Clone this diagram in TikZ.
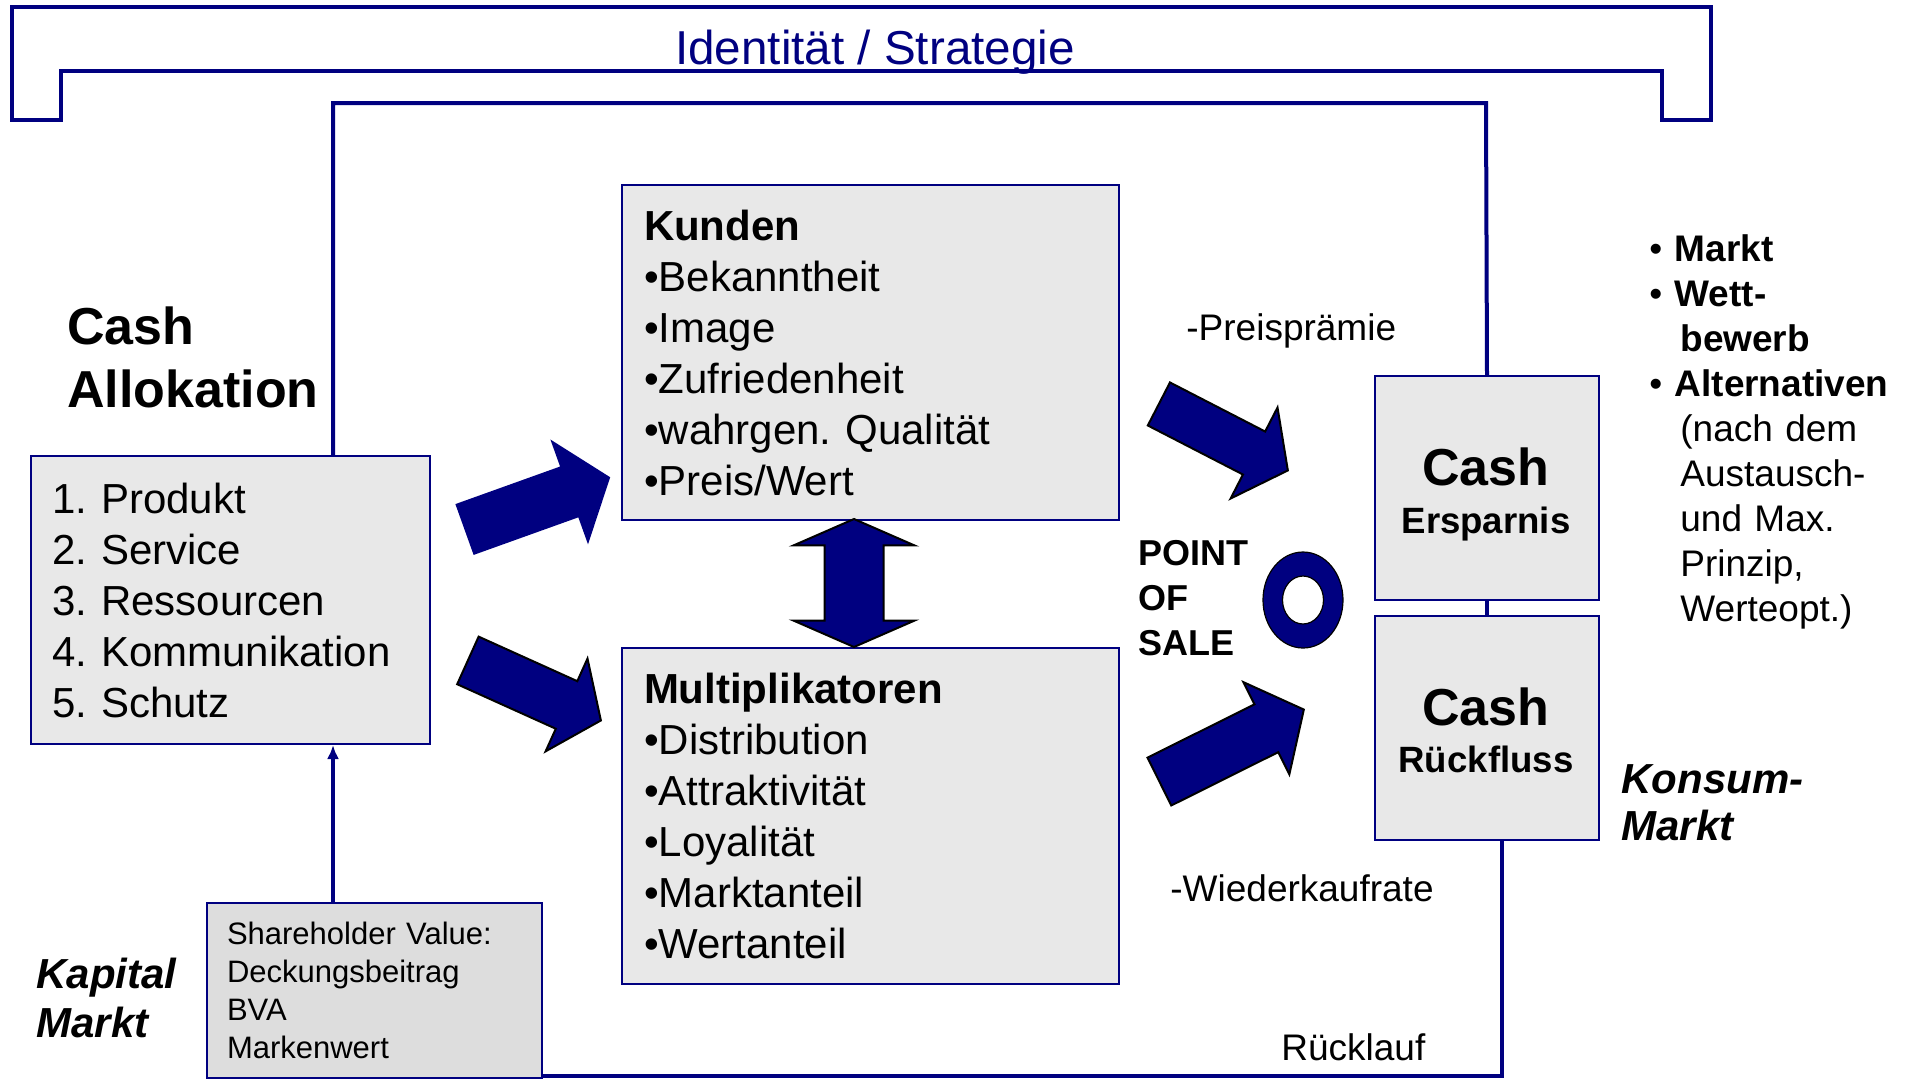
\documentclass[tikz,border=0pt]{standalone}
\usepackage{fontspec}
\setmainfont{Liberation Sans}
\usetikzlibrary{arrows.meta,positioning,shapes.arrows}
\definecolor{navy}{RGB}{0,0,128}
\definecolor{panel}{RGB}{232,232,232}
\definecolor{panel2}{RGB}{221,221,221}
\tikzset{
  box/.style={
    rectangle, draw=navy, line width=1pt, fill=panel, align=left,
    anchor=north west, inner ysep=0pt
  },
  cashbox/.style={
    rectangle, draw=navy, line width=1pt, fill=panel, anchor=north west,
    minimum width=112pt, minimum height=112pt, inner sep=0pt
  },
  cashbig/.style={inner sep=0pt, anchor=base, font=\bfseries\fontsize{26pt}{30pt}\selectfont},
  cashsub/.style={inner sep=0pt, anchor=base, font=\bfseries\fontsize{18.3pt}{22pt}\selectfont},
  txt/.style={inner sep=0pt, anchor=base west, align=left, text width=#1},
  txt/.default=150pt,
  frameline/.style={draw=navy, line width=2pt},
  blk/.style={
    single arrow, fill=navy, draw=black, line width=1pt, inner xsep=0pt,
    anchor=tail, single arrow head indent=0pt
  }
}
\frenchspacing
\begin{document}
\frenchspacing
\begin{tikzpicture}[x=0.5pt, y=-0.5pt]
\fill[white] (0,0) rectangle (1907,1078);
\useasboundingbox (0,0) rectangle (1907,1078);
\draw[frameline] (12,120) -- (12,7) -- (1711,7) -- (1711,120) -- (1662,120) -- (1662,71) -- (61,71) -- (61,120) -- cycle;
\node[inner sep=0pt, anchor=base, text=navy, font=\fontsize{23.8pt}{28pt}\selectfont] (ident) at (875,64) {Identität / Strategie};
\node[txt, font=\bfseries\fontsize{26pt}{31.5pt}\selectfont] (alloctitle) at (67,344) {Cash\\Allokation};
\node[box, text width=178.5pt, inner xsep=10.5pt, minimum height=144pt, font=\fontsize{21pt}{25.5pt}\selectfont] (alloc) at (30,455) {1. Produkt\\2. Service\\3. Ressourcen\\4. Kommunikation\\5. Schutz};
\node[box, text width=226.5pt, inner xsep=11pt, minimum height=167.5pt, font=\fontsize{21pt}{25.5pt}\selectfont] (kunden) at (621,184) {\textbf{Kunden}\\•Bekanntheit\\•Image\\•Zufriedenheit\\•wahrgen. Qualität\\•Preis/Wert};
\node[box, text width=226.5pt, inner xsep=11pt, minimum height=168pt, font=\fontsize{21pt}{25.5pt}\selectfont] (multi) at (621,647) {\textbf{Multiplikatoren}\\•Distribution\\•Attraktivität\\•Loyalität\\•Marktanteil\\•Wertanteil};
\node[box, fill=panel2, text width=147.5pt, inner xsep=10pt, minimum height=87.5pt, font=\fontsize{15.5pt}{19pt}\selectfont] (share) at (206,902) {Shareholder Value:\\Deckungsbeitrag\\BVA\\Markenwert};
\node[cashbox] (ersp) at (1374,375) {};
\node[cashbox] (rueck) at (1374,615) {};
\node[cashbig] (erspcash) at (1486,485) {Cash};
\node[cashsub] (erspname) at (1486,533) {Ersparnis};
\node[cashbig] (rueckcash) at (1486,725) {Cash};
\node[cashsub] (rueckname) at (1486,772) {Rückfluss};
\node[txt, font=\bfseries\fontsize{18pt}{22.5pt}\selectfont] (pos) at (1138,565) {POINT\\OF\\SALE};
\node[txt, font=\fontsize{18.5pt}{22pt}\selectfont] (praemie) at (1186,340) {-Preisprämie};
\node[txt, font=\fontsize{18.5pt}{22pt}\selectfont] (wieder) at (1170,901) {-Wiederkaufrate};
\node[txt, font=\fontsize{18.5pt}{22pt}\selectfont] (ruecklauf) at (1281,1060) {Rücklauf};
\node[txt, font=\bfseries\itshape\fontsize{21pt}{24.5pt}\selectfont] (kapital) at (36,988) {Kapital\\Markt};
\node[txt, font=\bfseries\itshape\fontsize{21pt}{23.5pt}\selectfont] (konsum) at (1621,793) {Konsum-\\Markt};
\node[txt=140pt, font=\fontsize{18.5pt}{22.5pt}\selectfont] (markt) at (1649,261) {•~\textbf{Markt}\\•~\textbf{Wett-}\\\hspace*{15.5pt}\textbf{bewerb}\\•~\textbf{Alternativen}\\\hspace*{15.5pt}(nach dem\\\hspace*{15.5pt}Austausch-\\\hspace*{15.5pt}und Max.\\\hspace*{15.5pt}Prinzip,\\\hspace*{15.5pt}Werteopt.)};
\coordinate (fTL) at (333,103);
\coordinate (fTR) at (1486,103);
\coordinate (fBR) at (1502,1076);
\draw[frameline] (alloc.north -| fTL) -- (fTL) -- (fTR) -- (ersp.north);
\draw[frameline] (ersp.south) -- (rueck.north);
\draw[frameline] (rueck.south -| fBR) -- (fBR) -- (share.east |- fBR);
\draw[frameline, -{Latex[length=7pt,width=6pt]}] (share.north -| fTL) -- (alloc.south -| fTL);
\node[blk, draw=navy, inner ysep=12.5pt, minimum height=76.25pt, minimum width=51.85pt, single arrow head extend=13.4pt, single arrow tip angle=104, rotate=19.74] (toKunden) at (464.5,529.5) {};
\node[blk, inner ysep=12.55pt, minimum height=72.95pt, minimum width=49.9pt, single arrow head extend=12.4pt, single arrow tip angle=107, rotate=-24.3] (toMulti) at (467,660) {};
\node[blk, inner ysep=11.6pt, minimum height=72.55pt, minimum width=50.3pt, single arrow head extend=13.5pt, single arrow tip angle=106.8, rotate=-27.27] (kundenPos) at (1158,403.5) {};
\node[blk, inner ysep=12.85pt, minimum height=80.7pt, minimum width=50.55pt, single arrow head extend=12.4pt, single arrow tip angle=101.8, rotate=26.5] (multiPos) at (1158.5,782) {};
\node[double arrow, fill=navy, draw=black, line width=1pt, inner xsep=0pt, inner ysep=14.25pt, minimum height=64pt, minimum width=59.5pt, double arrow head extend=15.5pt, double arrow tip angle=132.8, double arrow head indent=0pt, rotate=90] (link) at (854,583) {};
\coordinate (ring) at (1303,600);
\draw[fill=navy, draw=black, line width=0.6pt, even odd rule] (ring) ellipse [x radius=20pt, y radius=24pt] (ring) ellipse [x radius=10.25pt, y radius=12pt];
\end{tikzpicture}
\end{document}
